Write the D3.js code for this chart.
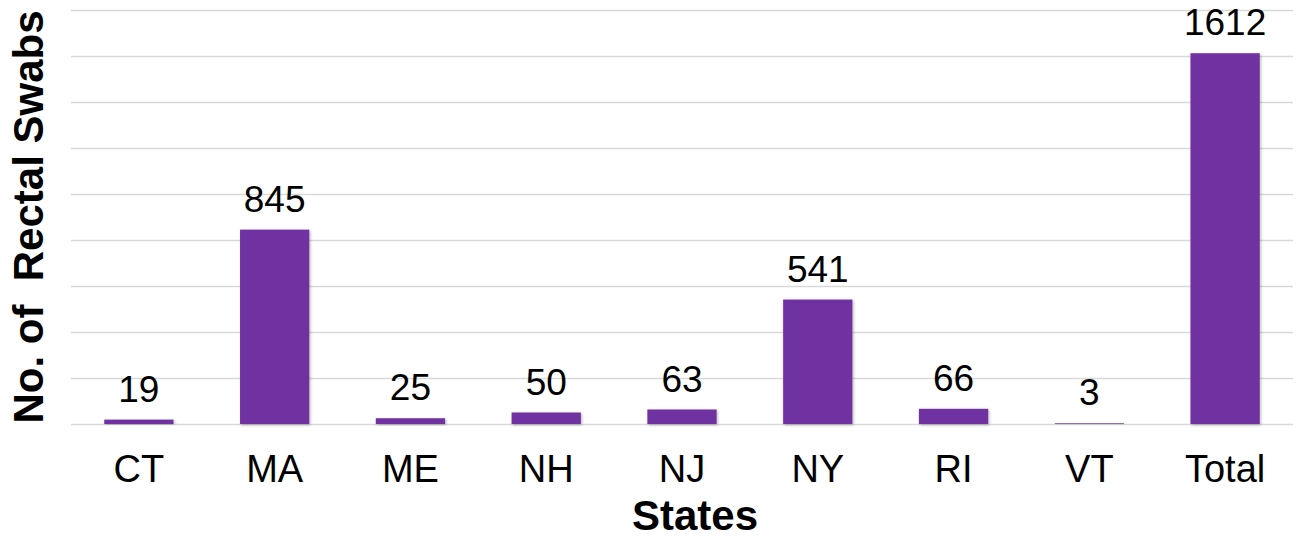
<!DOCTYPE html>
<html>
<head>
<meta charset="utf-8">
<script src="https://cdn.jsdelivr.net/npm/d3@7"></script>
<style>
  html, body { margin: 0; padding: 0; background: #fff; }
  svg { display: block; font-family: "Liberation Sans", Arial, sans-serif; }
</style>
</head>
<body>
<svg id="chart" width="1296" height="539"></svg>
<script>
// Rectal swab counts per state
const states = ["CT", "MA", "ME", "NH", "NJ", "NY", "RI", "VT", "Total"];
const swabCounts = [19, 845, 25, 50, 63, 541, 66, 3, 1612];
const yTicks = [0, 200, 400, 600, 800, 1000, 1200, 1400, 1600, 1800];

const svg = d3.select("#chart");
const plot = { left: 71, right: 1293, top: 10, bottom: 424 };

const x = d3.scaleBand()
  .domain(states)
  .range([plot.left, plot.right])
  .paddingInner(0.49)
  .paddingOuter(0.245);

const y = d3.scaleLinear()
  .domain([0, 1800])
  .range([plot.bottom, plot.top]);

// soft shadow under the bars
const defs = svg.append("defs");
const f = defs.append("filter").attr("id", "barShadow")
  .attr("x", "-20%").attr("y", "-20%").attr("width", "140%").attr("height", "140%");
f.append("feDropShadow")
  .attr("dx", 1).attr("dy", 1)
  .attr("stdDeviation", 1.5)
  .attr("flood-color", "#000")
  .attr("flood-opacity", 0.3);

// horizontal gridlines
const yAxis = d3.axisLeft(y).tickValues(yTicks).tickSize(-(plot.right - plot.left)).tickFormat("");
const gy = svg.append("g")
  .attr("transform", `translate(${plot.left},0)`)
  .call(yAxis);
gy.select(".domain").remove();
gy.selectAll(".tick line")
  .attr("stroke", "#d9d9d9")
  .attr("stroke-width", 1.5);

// bars
svg.append("g")
  .selectAll("rect")
  .data(states)
  .join("rect")
  .attr("x", d => x(d))
  .attr("width", x.bandwidth())
  .attr("y", (d, i) => y(swabCounts[i]))
  .attr("height", (d, i) => y(0) - y(swabCounts[i]))
  .attr("fill", "#7030a0")
  .attr("filter", "url(#barShadow)");

// value labels
svg.append("g")
  .selectAll("text")
  .data(states)
  .join("text")
  .attr("x", d => x(d) + x.bandwidth() / 2)
  .attr("y", (d, i) => y(swabCounts[i]) - 18)
  .attr("text-anchor", "middle")
  .attr("font-size", 37)
  .attr("fill", "#000")
  .text((d, i) => swabCounts[i]);

// category axis
const xAxis = d3.axisBottom(x).tickSize(0).tickPadding(0);
const gx = svg.append("g")
  .attr("transform", `translate(0,${plot.bottom})`)
  .call(xAxis);
gx.select(".domain").remove();
gx.selectAll(".tick text")
  .attr("dy", 0)
  .attr("y", 58)
  .attr("font-size", 38)
  .attr("font-family", "Liberation Sans, Arial, sans-serif")
  .attr("fill", "#000");

// axis titles
svg.append("text")
  .attr("x", 695)
  .attr("y", 530)
  .attr("text-anchor", "middle")
  .attr("font-size", 42)
  .attr("font-weight", "bold")
  .text("States");

svg.append("text")
  .attr("transform", "translate(43,217) rotate(-90)")
  .attr("text-anchor", "middle")
  .attr("font-size", 42)
  .attr("font-weight", "bold")
  .style("white-space", "pre")
  .text("No. of  Rectal Swabs");
</script>
</body>
</html>
